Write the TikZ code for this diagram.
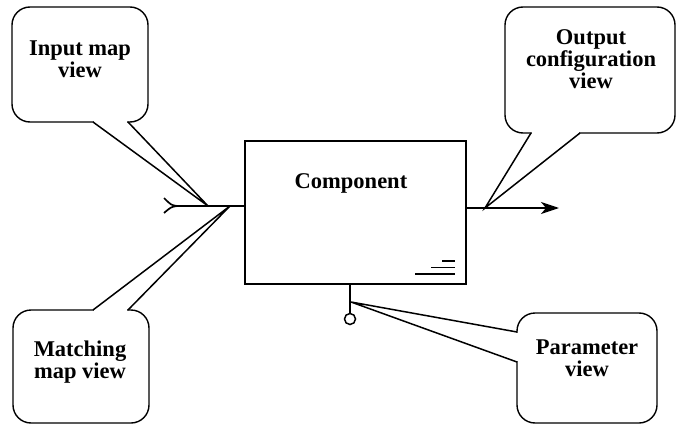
\documentclass[tikz,border=0pt]{standalone}
\usepackage{fontspec}
\setmainfont{Liberation Serif}
\usetikzlibrary{arrows.meta}
\tikzset{
  bubble/.style={draw, line width=1.4pt, rounded corners=18pt, inner sep=0pt},
  btext/.style={align=center, inner sep=0pt, font=\fontsize{22.5}{22}\selectfont\bfseries},
  tailline/.style={line width=1.5pt},
  wire/.style={line width=1.7pt},
  comp/.style={draw, line width=2.3pt, minimum width=221pt, minimum height=143pt, inner sep=0pt},
}
\begin{document}
\begin{tikzpicture}[x=1pt,y=-1pt]
\useasboundingbox (0,0) rectangle (677,425);

% component
\node[comp] (c) at (355.5,212.5) {};
\node[btext, anchor=base] (ct) at (351,188) {Component};
\draw[line width=1.5pt] (442,261) -- (455,261) (431,267.5) -- (455,267.5) (415,274) -- (455,274);

% input wire with feather tail
\coordinate (fin) at (177,206);
\draw[wire] (fin) -- (c.west |- fin);
\draw[wire] (164,198) .. controls (171,205) .. (fin) .. controls (171,207) .. (164,213);

% output wire with arrow
\coordinate (aout) at (559,208);
\draw[wire, -{Stealth[length=18pt,width=12pt,inset=5pt]}] (c.east |- aout) -- (aout);

% parameter stub
\node[draw, circle, line width=1.5pt, minimum size=11pt, inner sep=0pt] (pc) at (350,319) {};
\draw[wire] (c.south -| pc) -- (pc.north);

% bubbles
\node[bubble, minimum width=136pt, minimum height=115pt] (ib) at (80,64.5) {};
\node[btext] (ibt) at (80,59) {Input map\\view};
\node[bubble, minimum width=170pt, minimum height=126pt] (ob) at (590,70) {};
\node[btext] (obt) at (591,59) {Output\\configuration\\view};
\node[bubble, minimum width=136pt, minimum height=113pt] (mb) at (81,366.5) {};
\node[btext] (mbt) at (80,362) {Matching\\map view};
\node[bubble, minimum width=140pt, minimum height=110pt] (pb) at (587,368) {};
\node[btext] (pbt) at (587,358) {Parameter\\view};

% tails
\coordinate (ti) at (208,206);
\coordinate (tm) at (230,206);
\coordinate (to) at (485,208);
\coordinate (tp) at (351,302);

\fill[white] (94,120) -- (127,120) -- (127,124) -- (94,124) -- cycle;
\draw[tailline] (93,122) -- (ti) -- (128,122);

\fill[white] (94,308) -- (127,308) -- (127,312) -- (94,312) -- cycle;
\draw[tailline] (93,310) -- (tm) -- (128,310);

\fill[white] (532,131) -- (579,131) -- (579,135) -- (532,135) -- cycle;
\draw[tailline] (531,133) -- (to) -- (580,133);

\fill[white] (515,333) -- (519,333) -- (519,361) -- (515,361) -- cycle;
\draw[tailline] (517,332) -- (tp) -- (517,362);
\end{tikzpicture}
\end{document}
